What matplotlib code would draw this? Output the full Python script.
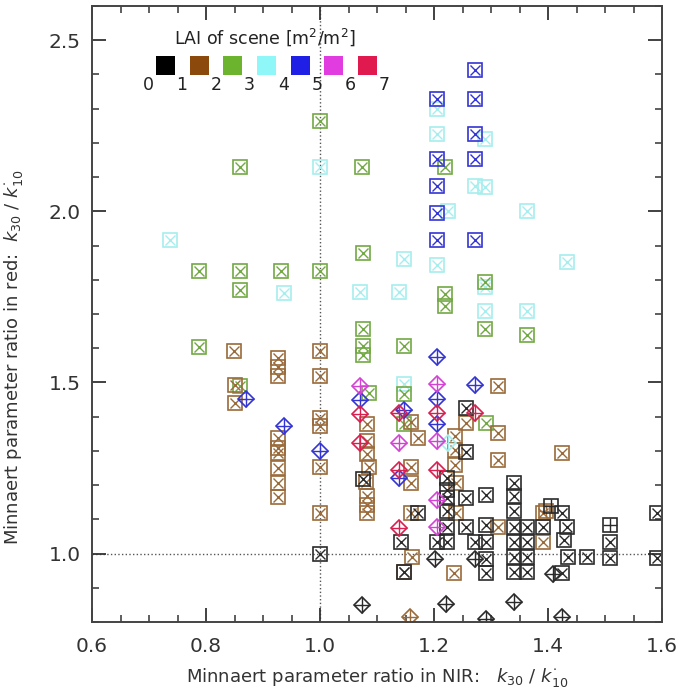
import matplotlib
matplotlib.use("Agg")
import matplotlib.pyplot as plt
from matplotlib.patches import Rectangle
from matplotlib.ticker import MultipleLocator, FormatStrFormatter

# LAI classes and their colours (legend colour, marker edge colour)
lai_labels = ['0', '1', '2', '3', '4', '5', '6', '7']
legend_colors = ['#000000', '#8b4a0c', '#6cb32e', '#8ff7f7', '#1f1fe6', '#e03ce0', '#e0194f']
marker_colors = ['#2a2a2a', '#9a6a3a', '#72a844', '#a6eeee', '#3434d2', '#d442d4', '#d82050']

# --- boxed-x markers, one list per LAI class ---
black_x = [1.0, 1.075, 1.172, 1.142, 1.148, 1.222, 1.222, 1.222, 1.222, 1.222, 1.205, 1.222,
           1.256, 1.256, 1.256, 1.256, 1.272, 1.291, 1.291, 1.291, 1.291, 1.291,
           1.34, 1.34, 1.34, 1.34, 1.34, 1.34, 1.34, 1.363, 1.363, 1.363, 1.363,
           1.392, 1.425, 1.434, 1.428, 1.435, 1.468, 1.424, 1.508, 1.508, 1.591, 1.591]
black_y = [1.0, 1.218, 1.118, 1.034, 0.945, 1.221, 1.186, 1.162, 1.123, 1.079, 1.034, 1.034,
           1.426, 1.296, 1.162, 1.079, 1.034, 1.171, 1.083, 1.034, 0.985, 0.943,
           1.206, 1.167, 1.123, 1.079, 1.034, 0.99, 0.946, 1.079, 1.034, 0.99, 0.946,
           1.077, 1.12, 1.079, 1.039, 0.99, 0.99, 0.943, 1.034, 0.988, 1.12, 0.988]

brown_x = [0.849, 0.926, 0.926, 0.926, 1.0, 1.0, 0.85, 0.85, 1.0, 1.0,
           0.926, 0.926, 0.926, 0.926, 0.926, 0.926, 1.0, 1.0,
           1.082, 1.082, 1.082, 1.086, 1.08, 1.082, 1.082, 1.082,
           1.159, 1.172, 1.159, 1.159, 1.159, 1.162, 1.148,
           1.237, 1.237, 1.237, 1.238, 1.238, 1.235,
           1.313, 1.256, 1.313, 1.313, 1.313, 1.424, 1.392, 1.392]
brown_y = [1.593, 1.571, 1.545, 1.52, 1.593, 1.518, 1.492, 1.441, 1.397, 1.373,
           1.338, 1.31, 1.294, 1.25, 1.206, 1.165, 1.253, 1.118,
           1.38, 1.33, 1.29, 1.253, 1.21, 1.167, 1.142, 1.118,
           1.384, 1.338, 1.253, 1.206, 1.118, 0.99, 0.946,
           1.343, 1.304, 1.26, 1.206, 1.118, 0.943,
           1.49, 1.382, 1.353, 1.274, 1.077, 1.294, 1.118, 1.034]

green_x = [1.0, 0.86, 1.074, 1.22, 0.788, 0.86, 0.932, 1.0, 0.86, 1.075,
           1.29, 1.22, 1.22, 1.075, 1.29, 1.363, 0.788, 1.075, 1.147, 1.075,
           0.86, 1.086, 1.147, 1.147, 1.291]
green_y = [2.263, 2.13, 2.13, 2.13, 1.826, 1.826, 1.826, 1.826, 1.77, 1.877,
           1.794, 1.76, 1.724, 1.657, 1.657, 1.639, 1.603, 1.606, 1.606, 1.58,
           1.49, 1.47, 1.466, 1.378, 1.382]

cyan_x = [1.0, 0.736, 0.9375, 1.205, 1.205, 1.29, 1.272, 1.29, 1.225, 1.363,
          1.147, 1.205, 1.434, 1.29, 1.071, 1.138, 1.29, 1.363, 1.147]
cyan_y = [2.129, 1.917, 1.762, 2.30, 2.226, 2.211, 2.074, 2.07, 2.0, 2.0,
          1.861, 1.843, 1.851, 1.78, 1.763, 1.763, 1.708, 1.708, 1.495]

blue_x = [1.272, 1.205, 1.272, 1.272, 1.205, 1.272, 1.205, 1.205, 1.205, 1.272]
blue_y = [2.414, 2.328, 2.328, 2.226, 2.152, 2.152, 2.074, 1.995, 1.917, 1.917]

# --- boxed-plus markers ---
black_plus_x = [1.406, 1.508]
black_plus_y = [1.139, 1.083]
brown_plus_x = [1.396]
brown_plus_y = [1.125]

# --- diamond markers ---
black_dia_x = [1.074, 1.201, 1.221, 1.272, 1.291, 1.34, 1.408, 1.424]
black_dia_y = [0.85, 0.985, 0.853, 0.985, 0.809, 0.858, 0.939, 0.814]
brown_dia_x = [1.157]
brown_dia_y = [0.814]
cyan_dia_x = [1.225]
cyan_dia_y = [1.324]
blue_dia_x = [0.871, 0.937, 1.0, 1.07, 1.147, 1.138, 1.205, 1.205, 1.205, 1.272]
blue_dia_y = [1.453, 1.374, 1.299, 1.45, 1.42, 1.221, 1.574, 1.453, 1.378, 1.492]
magenta_dia_x = [1.07, 1.138, 1.205, 1.205, 1.205, 1.205]
magenta_dia_y = [1.49, 1.324, 1.495, 1.329, 1.157, 1.077]
red_dia_x = [1.07, 1.07, 1.138, 1.138, 1.138, 1.205, 1.205, 1.272]
red_dia_y = [1.407, 1.324, 1.412, 1.245, 1.074, 1.412, 1.245, 1.41]


def boxed(ax, x, y, color, inner='x'):
    ax.plot(x, y, ls='none', marker='s', ms=10.3, mfc='none', mec=color, mew=1.2)
    size = 6.8 if inner == 'x' else 10.3
    ax.plot(x, y, ls='none', marker=inner, ms=size, mec=color, mew=1.0)


def diamond(ax, x, y, color):
    ax.plot(x, y, ls='none', marker='D', ms=8.5, mfc='none', mec=color, mew=1.2)
    ax.plot(x, y, ls='none', marker='+', ms=11.9, mec=color, mew=1.0)


fig = plt.figure(figsize=(6.79, 6.94), dpi=100)
ax = fig.add_axes([0.1355, 0.1037, 0.8395, 0.8876])

ax.set_xlim(0.6, 1.6)
ax.set_ylim(0.8, 2.6)

# reference lines at ratio = 1
ax.axvline(1.0, color='#555555', ls=':', lw=1.0, zorder=0)
ax.axhline(1.0, color='#555555', ls=':', lw=1.0, zorder=0)

boxed(ax, cyan_x, cyan_y, marker_colors[3])
boxed(ax, green_x, green_y, marker_colors[2])
boxed(ax, blue_x, blue_y, marker_colors[4])
boxed(ax, brown_x, brown_y, marker_colors[1])
boxed(ax, brown_plus_x, brown_plus_y, marker_colors[1], inner='+')
boxed(ax, black_x, black_y, marker_colors[0])
boxed(ax, black_plus_x, black_plus_y, marker_colors[0], inner='+')

diamond(ax, black_dia_x, black_dia_y, marker_colors[0])
diamond(ax, brown_dia_x, brown_dia_y, marker_colors[1])
diamond(ax, cyan_dia_x, cyan_dia_y, marker_colors[3])
diamond(ax, blue_dia_x, blue_dia_y, marker_colors[4])
diamond(ax, magenta_dia_x, magenta_dia_y, marker_colors[5])
diamond(ax, red_dia_x, red_dia_y, marker_colors[6])

# axes styling, IDL-like inward ticks on all sides
ax.xaxis.set_major_locator(MultipleLocator(0.2))
ax.xaxis.set_minor_locator(MultipleLocator(0.05))
ax.yaxis.set_major_locator(MultipleLocator(0.5))
ax.yaxis.set_minor_locator(MultipleLocator(0.1))
ax.xaxis.set_major_formatter(FormatStrFormatter('%.1f'))
ax.yaxis.set_major_formatter(FormatStrFormatter('%.1f'))
ax.tick_params(which='both', direction='in', top=True, right=True, color='#333333')
ax.tick_params(which='major', length=10, width=1.3, labelsize=14.5, labelcolor='#333333')
ax.tick_params(which='minor', length=5, width=1.1)
ax.tick_params(axis='x', which='major', pad=11)
ax.tick_params(axis='y', which='major', pad=8)
for sp in ax.spines.values():
    sp.set_color('#444444')
    sp.set_linewidth(1.4)

ax.set_xlabel(r'Minnaert parameter ratio in NIR:   $k_{30}$ / $k^{\cdot}_{10}$', fontsize=13, color='#333333')
ax.set_ylabel(r'Minnaert parameter ratio in red:  $k_{30}$ / $k^{\cdot}_{10}$', fontsize=13, color='#333333')
ax.xaxis.set_label_coords(0.5, -0.071)
ax.yaxis.set_label_coords(-0.118, 0.43)

# colour key for LAI classes
ax.text(0.303, 0.95, r'LAI of scene [m$^2$/m$^2$]', transform=ax.transAxes,
        ha='center', va='center', fontsize=12.5, color='#222222')
sq_w, sq_h, step = 0.0333, 0.0308, 0.0591
x0, y0 = 0.112, 0.888
for i, c in enumerate(legend_colors):
    ax.add_patch(Rectangle((x0 + i * step, y0), sq_w, sq_h, transform=ax.transAxes,
                           facecolor=c, edgecolor='none', clip_on=False))
for i, lab in enumerate(lai_labels):
    ax.text(x0 - 0.013 + i * step, 0.872, lab, transform=ax.transAxes,
            ha='center', va='center', fontsize=12.5, color='#222222')

fig.savefig('out.png', dpi=100)
